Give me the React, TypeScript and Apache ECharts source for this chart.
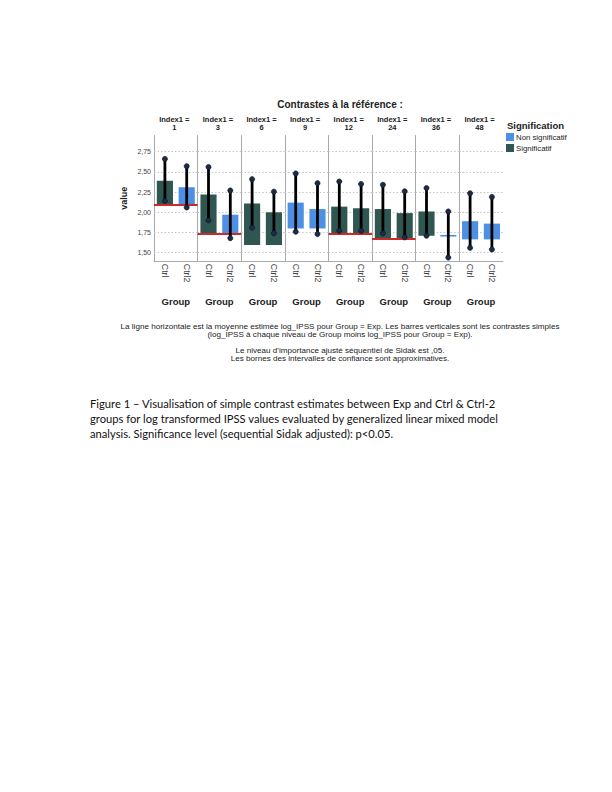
import React, { useEffect, useRef } from "react";
import * as echarts from "echarts";

// ---------- data ----------
const panelIndex = ["1", "3", "6", "9", "12", "24", "36", "48"];
const groups = ["Ctrl", "Ctrl2"];
const referenceMean = [2.09, 1.73, 1.595, 1.8, 1.74, 1.67, 1.71, 1.665];
const referenceLineShown = [true, true, false, false, true, true, false, false];
const ctrlValue = [2.39, 2.22, 2.11, 2.12, 2.07, 2.04, 2.01, 1.89];
const ctrl2Value = [2.31, 1.97, 2.0, 2.04, 2.05, 1.99, 1.71, 1.86];
const ctrlLow = [2.14, 1.9, 1.81, 1.76, 1.77, 1.74, 1.71, 1.56];
const ctrlHigh = [2.66, 2.56, 2.41, 2.48, 2.38, 2.34, 2.3, 2.235];
const ctrl2Low = [2.06, 1.68, 1.74, 1.73, 1.77, 1.69, 1.44, 1.54];
const ctrl2High = [2.57, 2.27, 2.255, 2.36, 2.35, 2.26, 2.01, 2.19];
const ctrlSignificant = [true, true, true, false, true, true, true, false];
const ctrl2Significant = [false, false, true, false, true, true, false, false];
const yGridValues = [1.5, 1.75, 2.0, 2.25, 2.5, 2.75];
const legendNames = ["Non significatif", "Significatif"];

const footnotes = [
  "La ligne horizontale est la moyenne estimée log_IPSS pour Group = Exp. Les barres verticales sont les contrastes simples",
  "(log_IPSS à chaque niveau de Group moins log_IPSS pour Group = Exp).",
  "Le niveau d'importance ajusté séquentiel de Sidak est ,05.",
  "Les bornes des intervalles de confiance sont approximatives.",
];
const caption = [
  "Figure 1 – Visualisation of simple contrast estimates between Exp and Ctrl & Ctrl-2",
  "groups for log transformed IPSS values evaluated by generalized linear mixed model",
  "analysis. Significance level (sequential Sidak adjusted): p<0.05.",
];

// ---------- styles ----------
const SIG_COLOR = "#2f5651";
const NONSIG_COLOR = "#4d8fe3";
const FONT = "'Liberation Sans', Arial, sans-serif";
const PANEL_LEFT = 154;
const PANEL_W = 43.6;
const PLOT_TOP = 135.5;
const PLOT_H = 125.3;

export default function App() {
  const ref = useRef<HTMLDivElement>(null);

  useEffect(() => {
    if (!ref.current) return;
    const chart = echarts.init(ref.current, undefined, { renderer: "svg" });

    const grids: any[] = [];
    const xAxes: any[] = [];
    const yAxes: any[] = [];
    const series: any[] = [];
    const graphics: any[] = [];

    const barRender = (color: string) => (params: any, api: any) => {
      const x = api.value(0);
      const b = api.value(1);
      const v = api.value(2);
      const p1 = api.coord([x, b]);
      const p2 = api.coord([x, v]);
      const w = api.size([1, 0])[0] * 0.74;
      let top = Math.min(p1[1], p2[1]);
      let h = Math.abs(p1[1] - p2[1]);
      if (h < 1.6) {
        top = (p1[1] + p2[1]) / 2 - 0.8;
        h = 1.6;
      }
      return {
        type: "rect",
        shape: { x: p1[0] - w / 2, y: top, width: w, height: h },
        style: { fill: color },
      };
    };

    const errRender = (params: any, api: any) => {
      const x = api.value(0);
      const lo = api.coord([x, api.value(1)]);
      const hi = api.coord([x, api.value(2)]);
      const dot = { fill: "#1d2b47", stroke: "#0c1220", lineWidth: 0.6 };
      return {
        type: "group",
        children: [
          { type: "line", shape: { x1: lo[0], y1: lo[1], x2: hi[0], y2: hi[1] }, style: { stroke: "#000", lineWidth: 2.8 } },
          { type: "circle", shape: { cx: lo[0], cy: lo[1], r: 2.6 }, style: dot },
          { type: "circle", shape: { cx: hi[0], cy: hi[1], r: 2.6 }, style: dot },
        ],
      };
    };

    panelIndex.forEach((idx, k) => {
      const left = PANEL_LEFT + PANEL_W * k;
      grids.push({ left, top: PLOT_TOP, width: PANEL_W, height: PLOT_H });
      xAxes.push({
        type: "category",
        gridIndex: k,
        data: groups,
        axisLine: { show: true, lineStyle: { color: "#a8a8a8", width: 1 } },
        axisTick: { show: false },
        axisLabel: { rotate: -90, fontSize: 8.8, color: "#444", fontFamily: FONT, margin: 3 },
        name: "Group",
        nameLocation: "middle",
        nameGap: 36,
        nameTextStyle: { fontSize: 9.5, fontWeight: "bold", color: "#222", fontFamily: FONT },
      });
      yAxes.push({
        type: "value",
        gridIndex: k,
        min: 1.4,
        max: 2.95,
        interval: 0.05,
        axisLine: { show: true, lineStyle: { color: "#a8a8a8", width: 1 } },
        axisTick: { show: false },
        splitLine: { show: false },
        axisLabel: {
          show: k === 0,
          fontSize: 7,
          color: "#444",
          fontFamily: FONT,
          margin: 3,
          formatter: (v: number) => {
            const q = v * 4;
            return Math.abs(q - Math.round(q)) < 1e-6 && v > 1.45 ? v.toFixed(2).replace(".", ",") : "";
          },
        },
        name: k === 0 ? "value" : "",
        nameLocation: "middle",
        nameGap: 26,
        nameTextStyle: { fontSize: 9, fontWeight: "bold", color: "#222", fontFamily: FONT },
      });

      const sigData: any[] = [];
      const nonData: any[] = [];
      const vals = [ctrlValue[k], ctrl2Value[k]];
      const sigs = [ctrlSignificant[k], ctrl2Significant[k]];
      vals.forEach((v, i) => {
        const item = [i, referenceMean[k], v];
        (sigs[i] ? sigData : nonData).push(item);
      });

      series.push({
        type: "custom",
        name: "Non significatif",
        xAxisIndex: k,
        yAxisIndex: k,
        z: 2,
        color: NONSIG_COLOR,
        itemStyle: { color: NONSIG_COLOR },
        renderItem: barRender(NONSIG_COLOR),
        encode: { x: 0, y: [1, 2] },
        data: nonData,
        silent: true,
        markLine: {
          silent: true,
          symbol: ["none", "none"],
          z: 1,
          label: { show: false },
          lineStyle: { color: "#c4c4c4", type: [1.5, 2], width: 1 },
          data: yGridValues.map((v) => ({ yAxis: v })),
        },
      });
      series.push({
        type: "custom",
        name: "Significatif",
        xAxisIndex: k,
        yAxisIndex: k,
        z: 2,
        color: SIG_COLOR,
        itemStyle: { color: SIG_COLOR },
        renderItem: barRender(SIG_COLOR),
        encode: { x: 0, y: [1, 2] },
        data: sigData,
        silent: true,
        markLine: referenceLineShown[k]
          ? {
              silent: true,
              symbol: ["none", "none"],
              z: 3,
              label: { show: false },
              lineStyle: { color: "#c92a2a", type: "solid", width: 2 },
              data: [{ yAxis: referenceMean[k] }],
            }
          : undefined,
      });
      series.push({
        type: "custom",
        name: "IC",
        xAxisIndex: k,
        yAxisIndex: k,
        z: 4,
        renderItem: errRender,
        encode: { x: 0, y: [1, 2] },
        data: [
          [0, ctrlLow[k], ctrlHigh[k]],
          [1, ctrl2Low[k], ctrl2High[k]],
        ],
        silent: true,
      });

      const cx = left + PANEL_W / 2 - 1.5;
      graphics.push({
        type: "text",
        x: cx,
        y: 119.5,
        style: { text: "Index1 =", fontSize: 7.5, fontWeight: "bold", fill: "#222", align: "center", verticalAlign: "middle", fontFamily: FONT },
      });
      graphics.push({
        type: "text",
        x: cx,
        y: 127,
        style: { text: idx, fontSize: 7.5, fontWeight: "bold", fill: "#222", align: "center", verticalAlign: "middle", fontFamily: FONT },
      });
    });

    graphics.push({
      type: "text",
      x: 340,
      y: 104,
      style: { text: "Contrastes à la référence :", fontSize: 10, fontWeight: "bold", fill: "#222", align: "center", verticalAlign: "middle", fontFamily: FONT },
    });
    graphics.push({
      type: "text",
      x: 507,
      y: 125,
      style: { text: "Signification", fontSize: 9.5, fontWeight: "bold", fill: "#222", align: "left", verticalAlign: "middle", fontFamily: FONT },
    });
    const footY = [326, 334, 350, 358];
    footnotes.forEach((t, i) => {
      graphics.push({
        type: "text",
        x: 340,
        y: footY[i],
        style: { text: t, fontSize: 8.1, fill: "#222", align: "center", verticalAlign: "middle", fontFamily: FONT },
      });
    });
    const capY = [403.5, 418.5, 433];
    caption.forEach((t, i) => {
      graphics.push({
        type: "text",
        x: 90,
        y: capY[i],
        style: { text: t, fontSize: 11.2, fill: "#111", align: "left", verticalAlign: "middle", fontFamily: "Lato, 'Open Sans', sans-serif" },
      });
    });

    chart.setOption({
      animation: false,
      backgroundColor: "#ffffff",
      grid: grids,
      xAxis: xAxes,
      yAxis: yAxes,
      series,
      legend: {
        data: legendNames,
        orient: "vertical",
        left: 506,
        top: 133,
        padding: 0,
        itemWidth: 8,
        itemHeight: 8,
        itemGap: 3,
        icon: "rect",
        selectedMode: false,
        textStyle: { fontSize: 7.8, color: "#222", fontFamily: FONT, padding: [0, 0, 0, -3] },
      },
      graphic: graphics,
    });

    return () => chart.dispose();
  }, []);

  return (
    <div
      ref={ref}
      style={{ position: "fixed", left: 0, top: 0, width: 612, height: 792, background: "#fff" }}
    />
  );
}
